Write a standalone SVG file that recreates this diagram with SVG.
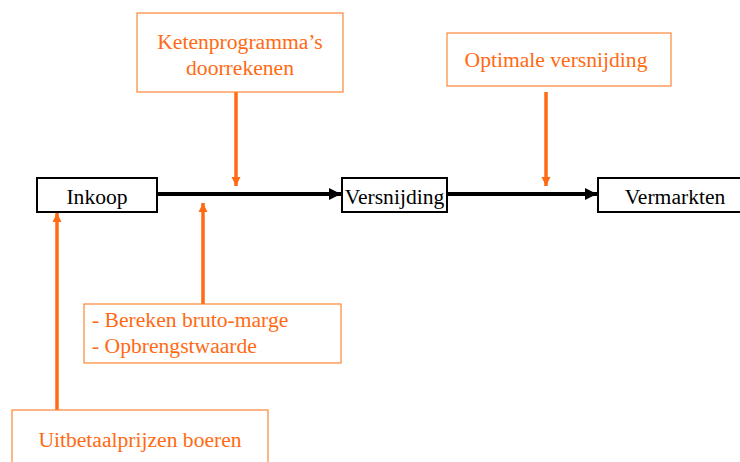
<svg xmlns="http://www.w3.org/2000/svg" width="740" height="462" viewBox="0 0 740 462">
<style>
.bg{fill:#ffffff}
.nb{fill:#ffffff;stroke:#000000;stroke-width:2}
.ob{fill:#ffffff;stroke:#FF8636;stroke-width:1.2}
.t{font-family:"Liberation Serif","Times New Roman",serif;font-size:21.6px;fill:#000000}
.ot{font-family:"Liberation Serif","Times New Roman",serif;font-size:21.6px;fill:#FF6A13}
.bl{stroke:#000000;stroke-width:4;fill:none}
.ol{stroke:#FF6A13;stroke-width:3.5;fill:none}
</style>
<defs>
<marker id="ab" viewBox="0 0 10 10" refX="10" refY="5" markerWidth="3" markerHeight="3" orient="auto" markerUnits="strokeWidth">
<path d="M0,0 L10,5 L0,10 z" fill="#000000"/>
</marker>
<marker id="ao" viewBox="0 0 10 10" refX="10" refY="5" markerWidth="2.6" markerHeight="2.6" orient="auto" markerUnits="strokeWidth">
<path d="M0,0 L10,5 L0,10 z" fill="#FF6A13"/>
</marker>
</defs>
<rect class="bg" x="0" y="0" width="740" height="462"/>
<g id="connectors">
<line class="bl" x1="158" y1="194" x2="341" y2="194" marker-end="url(#ab)"/>
<line class="bl" x1="448" y1="194" x2="597" y2="194" marker-end="url(#ab)"/>
<line class="ol" x1="236" y1="92" x2="236" y2="186" marker-end="url(#ao)"/>
<line class="ol" x1="546" y1="92" x2="546" y2="186" marker-end="url(#ao)"/>
<line class="ol" x1="203" y1="304" x2="203" y2="203" marker-end="url(#ao)"/>
<line class="ol" x1="57" y1="410" x2="57" y2="213" marker-end="url(#ao)"/>
</g>
<g id="inkoop">
<rect class="nb" x="37" y="178" width="120" height="34"/>
<text class="t" x="97" y="204" text-anchor="middle">Inkoop</text>
</g>
<g id="versnijding">
<rect class="nb" x="342" y="178" width="105" height="34"/>
<text class="t" x="394.5" y="204" text-anchor="middle">Versnijding</text>
</g>
<g id="vermarkten">
<rect class="nb" x="598" y="178" width="150" height="34"/>
<text class="t" x="675" y="204" text-anchor="middle">Vermarkten</text>
</g>
<g id="ketenprogramma">
<rect class="ob" x="137" y="13" width="206" height="79"/>
<text class="ot" x="240" y="49" text-anchor="middle">Ketenprogramma’s</text>
<text class="ot" x="240" y="75" text-anchor="middle">doorrekenen</text>
</g>
<g id="optimale">
<rect class="ob" x="447" y="33" width="224" height="53"/>
<text class="ot" x="556" y="67" text-anchor="middle">Optimale versnijding</text>
</g>
<g id="bereken">
<rect class="ob" x="84" y="304" width="257" height="59"/>
<text class="ot" x="92" y="327">- Bereken bruto-marge</text>
<text class="ot" x="92" y="353">- Opbrengstwaarde</text>
</g>
<g id="uitbetaal">
<rect class="ob" x="12" y="410" width="256" height="60"/>
<text class="ot" x="140" y="447" text-anchor="middle">Uitbetaalprijzen boeren</text>
</g>
</svg>
